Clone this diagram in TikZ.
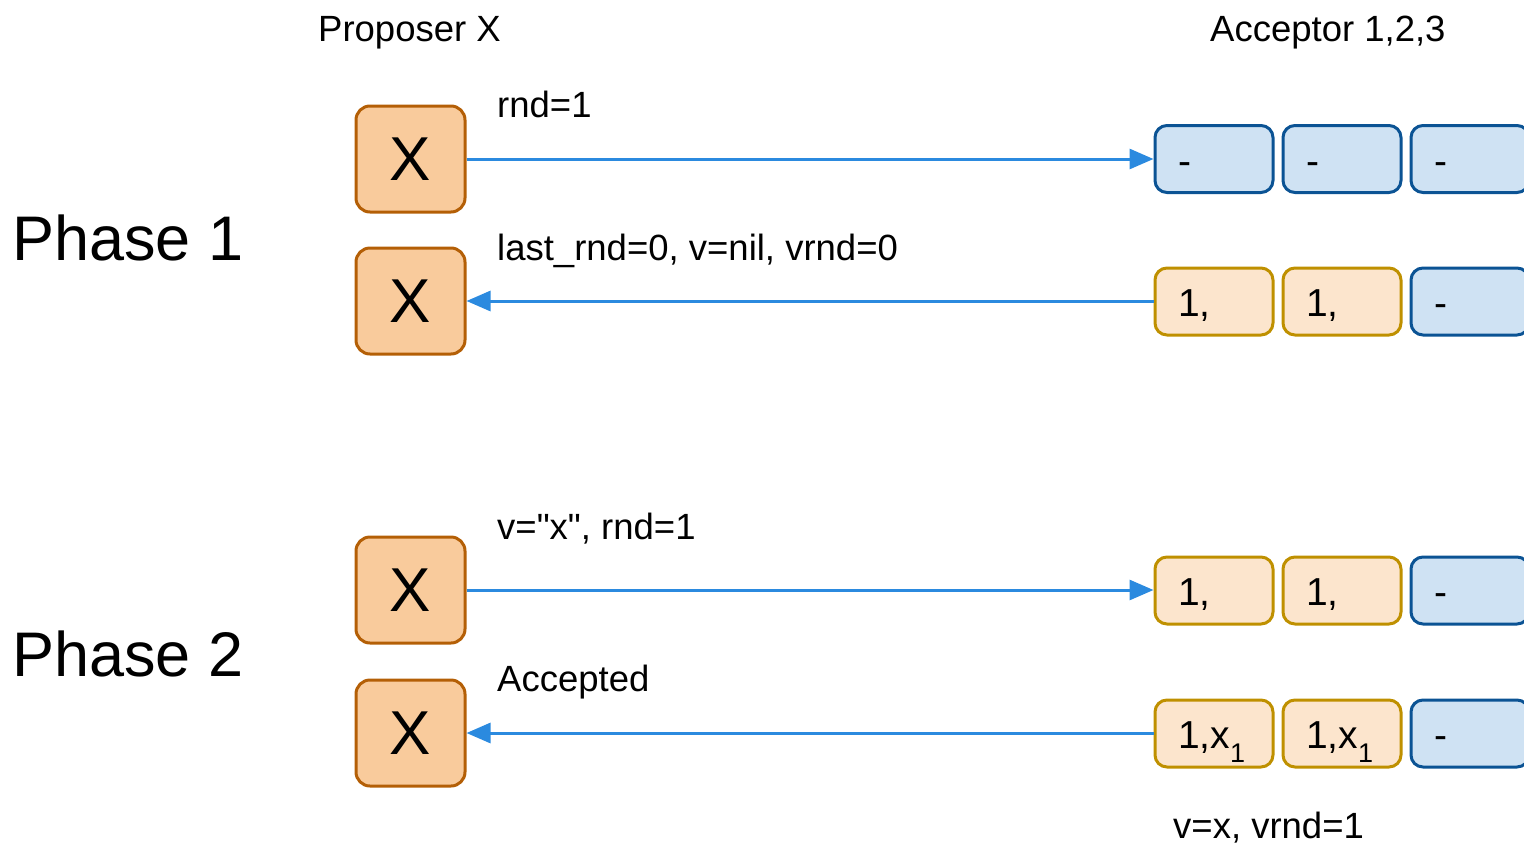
\documentclass[tikz,border=0pt]{standalone}
\usepackage{fontspec}
\setmainfont{Liberation Sans}
\usetikzlibrary{arrows.meta}
\definecolor{propfill}{HTML}{F9CB9C}
\definecolor{propdraw}{HTML}{B45F06}
\definecolor{accfill}{HTML}{CFE2F3}
\definecolor{accdraw}{HTML}{0B5394}
\definecolor{okfill}{HTML}{FCE5CD}
\definecolor{okdraw}{HTML}{BF9000}
\definecolor{msg}{HTML}{2B8ADF}
\tikzset{
  propbox/.style={draw=propdraw, fill=propfill, line width=3pt, rounded corners=14pt,
    minimum width=109pt, minimum height=106pt, inner sep=0pt,
    font=\fontsize{62}{62}\selectfont},
  accbox/.style={draw=accdraw, fill=accfill, line width=3pt, rounded corners=12pt,
    minimum height=67pt, inner ysep=0pt, inner xsep=23pt, text width=72pt, align=left,
    text height=30pt, text depth=0pt,
    font=\fontsize{39}{39}\selectfont},
  okbox/.style={accbox, draw=okdraw, fill=okfill},
  lbl/.style={anchor=base west, inner sep=0pt, font=\fontsize{36.5}{36.5}\selectfont},
  phase/.style={anchor=base west, inner sep=0pt, font=\fontsize{63}{63}\selectfont},
  msgarrow/.style={draw=msg, line width=3pt, -{Triangle[length=24pt,width=20pt]}},
}
\newcommand{\xsub}{1,x\raisebox{-14pt}{\fontsize{27}{27}\selectfont 1}}
\newcommand{\sq}{\XeTeXglyph\XeTeXglyphindex"quotedbl" }
\begin{document}
\begin{tikzpicture}[x=1pt,y=-1pt]
\useasboundingbox (0,0) rectangle (1524,844);
\clip (0,0) rectangle (1524,844);
% headers
\node[lbl] (hp) at (318,41) {Proposer X};
\node[lbl] (ha) at (1210,41) {Acceptor 1,2,3};
\node[phase] (ph1) at (12,260) {Phase 1};
\node[phase] (ph2) at (12,676) {Phase 2};
% proposer boxes
\node[propbox] (p1) at (410.5,159) {X};
\node[propbox] (p2) at (410.5,301) {X};
\node[propbox] (p3) at (410.5,590) {X};
\node[propbox] (p4) at (410.5,733) {X};
% acceptor row 1
\node[accbox] (a11) at (1214,159) {-};
\node[accbox] (a12) at (1342,159) {-};
\node[accbox] (a13) at (1470,159) {-};
% row 2
\node[okbox] (a21) at (1214,301.5) {1,};
\node[okbox] (a22) at (1342,301.5) {1,};
\node[accbox] (a23) at (1470,301.5) {-};
% row 3
\node[okbox] (a31) at (1214,590.5) {1,};
\node[okbox] (a32) at (1342,590.5) {1,};
\node[accbox] (a33) at (1470,590.5) {-};
% row 4
\node[okbox] (a41) at (1214,733.5) {\xsub};
\node[okbox] (a42) at (1342,733.5) {\xsub};
\node[accbox] (a43) at (1470,733.5) {-};
% arrows
\draw[msgarrow] (p1.east) -- (p1.east -| a11.west);
\draw[msgarrow] (p2.east -| a21.west) -- (p2.east);
\draw[msgarrow] (p3.east) -- (p3.east -| a31.west);
\draw[msgarrow] (p4.east -| a41.west) -- (p4.east);
% labels
\node[lbl] (l1) at (497,117) {rnd=1};
\node[lbl] (l2) at (497,260) {last\_rnd=0, v=nil, vrnd=0};
\node[lbl] (l3) at (497,539) {v=\sq x\sq, rnd=1};
\node[lbl] (l4) at (497,691) {Accepted};
\node[lbl] (l5) at (1173,838) {v=x, vrnd=1};
\end{tikzpicture}
\end{document}
